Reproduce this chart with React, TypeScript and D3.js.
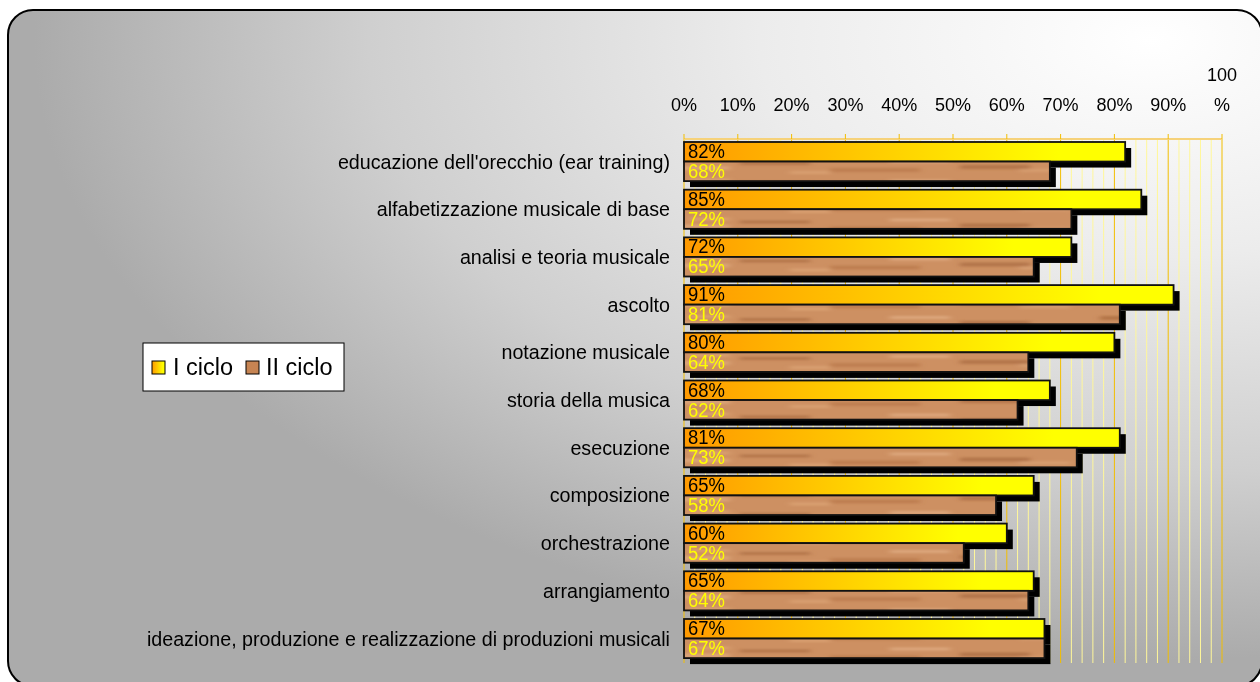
import React from "react";
import * as d3 from "d3";

const categories = [
  "educazione dell'orecchio (ear training)",
  "alfabetizzazione musicale di base",
  "analisi e teoria musicale",
  "ascolto",
  "notazione musicale",
  "storia della musica",
  "esecuzione",
  "composizione",
  "orchestrazione",
  "arrangiamento",
  "ideazione, produzione e realizzazione di produzioni musicali",
];
const seriesNames = ["I ciclo", "II ciclo"];
const cicloI = [82, 85, 72, 91, 80, 68, 81, 65, 60, 65, 67];
const cicloII = [68, 72, 65, 81, 64, 62, 73, 58, 52, 64, 67];
const majorTicks = [0, 10, 20, 30, 40, 50, 60, 70, 80, 90, 100];

const W = 1260;
const H = 682;
const FONT = "'Liberation Sans', Arial, sans-serif";

export default function App() {
  const x = d3.scaleLinear().domain([0, 100]).range([684, 1222]);
  const y = d3
    .scaleBand<string>()
    .domain(categories)
    .range([137.7, 662.4])
    .paddingInner(0.18)
    .paddingOuter(0.09);
  const bh = y.bandwidth() / 2;
  const minorTicks = d3.range(0, 101, 2);
  const gridTop = 139;
  const gridBottom = 663;
  const shadow = 6;
  const lx = x(0) + 4;

  const woodStreaks = [
    { x: 20, y: 4, w: 60, h: 4, c: "#a8683c" },
    { x: 110, y: 10, w: 80, h: 4, c: "#e0ac80" },
    { x: 200, y: 6, w: 70, h: 3, c: "#a86a40" },
    { x: 290, y: 12, w: 90, h: 4, c: "#b8784a" },
    { x: 350, y: 4, w: 60, h: 3, c: "#e2b088" },
    { x: 420, y: 9, w: 70, h: 4, c: "#a86a40" },
    { x: 480, y: 13, w: 50, h: 3, c: "#dca478" },
    { x: 60, y: 14, w: 50, h: 3, c: "#b57548" },
    { x: 250, y: 15, w: 40, h: 3, c: "#dea678" },
    { x: 150, y: 3, w: 40, h: 3, c: "#dea678" },
  ];

  const valueTransform = (baseY: number) =>
    `translate(${lx},${baseY}) scale(0.97,1.08) translate(${-lx},${-baseY})`;

  return (
    <svg
      width={W}
      height={H}
      style={{ position: "fixed", left: 0, top: 0, display: "block" }}
      fontFamily={FONT}
    >
      <defs>
        <radialGradient
          id="bg"
          gradientUnits="userSpaceOnUse"
          cx={1150}
          cy={40}
          r={620}
          gradientTransform="translate(1150,40) scale(1.8,1) translate(-1150,-40)"
        >
          <stop offset="0" stopColor="#ffffff" />
          <stop offset="0.35" stopColor="#ececec" />
          <stop offset="0.7" stopColor="#cfcfcf" />
          <stop offset="1" stopColor="#ababab" />
        </radialGradient>
        <linearGradient id="gold" x1="0" y1="0" x2="1" y2="0">
          <stop offset="0" stopColor="#ff9900" />
          <stop offset="0.85" stopColor="#ffff00" />
          <stop offset="1" stopColor="#ffff00" />
        </linearGradient>
        <filter id="soft" x="-10%" y="-50%" width="120%" height="200%">
          <feGaussianBlur stdDeviation="3 1.2" />
        </filter>
        <pattern id="wood" patternUnits="userSpaceOnUse" width={540} height={19.5}>
          <rect width={540} height={19.5} fill="#cd9062" />
          <g filter="url(#soft)">
            {woodStreaks.map((s, i) => (
              <rect key={i} x={s.x} y={s.y} width={s.w} height={s.h} fill={s.c} opacity={0.7} />
            ))}
          </g>
        </pattern>
      </defs>

      <rect x={8} y={10} width={1254} height={676} rx={25} ry={25} fill="url(#bg)" stroke="#000" strokeWidth={2} />

      {/* grid */}
      {minorTicks.map((t) => (
        <line
          key={"g" + t}
          x1={x(t)}
          x2={x(t)}
          y1={gridTop}
          y2={gridBottom}
          stroke={t % 10 === 0 ? "#f2be00" : "#fff79a"}
          strokeWidth={1}
        />
      ))}
      <line x1={x(0)} x2={x(100)} y1={gridTop} y2={gridTop} stroke="#f6d27a" strokeWidth={2} />
      {majorTicks.map((t) => (
        <line key={"t" + t} x1={x(t)} x2={x(t)} y1={gridTop - 5} y2={gridTop} stroke="#f2be00" strokeWidth={1} />
      ))}
      {majorTicks.map((t) =>
        t === 100 ? (
          <text key={"l" + t} x={x(t)} y={111} textAnchor="middle" fontSize={18} fill="#000">
            <tspan x={x(t)} dy={-30}>100</tspan>
            <tspan x={x(t)} dy={30}>%</tspan>
          </text>
        ) : (
          <text key={"l" + t} x={x(t)} y={111} textAnchor="middle" fontSize={18} fill="#000">
            {t}%
          </text>
        )
      )}

      {/* shadows */}
      {categories.map((c, i) => (
        <g key={"s" + c}>
          <rect x={x(0) + shadow} y={(y(c) as number) + shadow} width={x(cicloI[i]) - x(0)} height={bh} fill="#000" />
          <rect x={x(0) + shadow} y={(y(c) as number) + bh + shadow} width={x(cicloII[i]) - x(0)} height={bh} fill="#000" />
        </g>
      ))}
      {/* bars */}
      {categories.map((c, i) => {
        const y0 = y(c) as number;
        const b1 = y0 + bh - 3.5;
        const b2 = y0 + 2 * bh - 3;
        return (
          <g key={"b" + c}>
            <rect x={x(0)} y={y0} width={x(cicloI[i]) - x(0)} height={bh} fill="url(#gold)" stroke="#111" strokeWidth={1.8} />
            <rect x={x(0)} y={y0 + bh} width={x(cicloII[i]) - x(0)} height={bh} fill="url(#wood)" stroke="#111" strokeWidth={1.8} />
            <text x={lx} y={b1} fontSize={19} fill="#000" transform={valueTransform(b1)}>
              {cicloI[i]}%
            </text>
            <text x={lx} y={b2} fontSize={19} fill="#ffff00" transform={valueTransform(b2)}>
              {cicloII[i]}%
            </text>
            <text x={670} y={y0 + bh + 7} textAnchor="end" fontSize={19.7} fill="#000">
              {c}
            </text>
          </g>
        );
      })}

      {/* legend */}
      <g>
        <rect x={143} y={343} width={201} height={48} fill="#fff" stroke="#000" strokeWidth={1} />
        <rect x={152} y={361} width={13} height={13} fill="url(#gold)" stroke="#000" strokeWidth={1} />
        <text x={173} y={375} fontSize={23.5} fill="#000">{seriesNames[0]}</text>
        <rect x={246} y={361} width={13} height={13} fill="#c68453" stroke="#000" strokeWidth={1} />
        <text x={266} y={375} fontSize={23.5} fill="#000">{seriesNames[1]}</text>
      </g>
    </svg>
  );
}
